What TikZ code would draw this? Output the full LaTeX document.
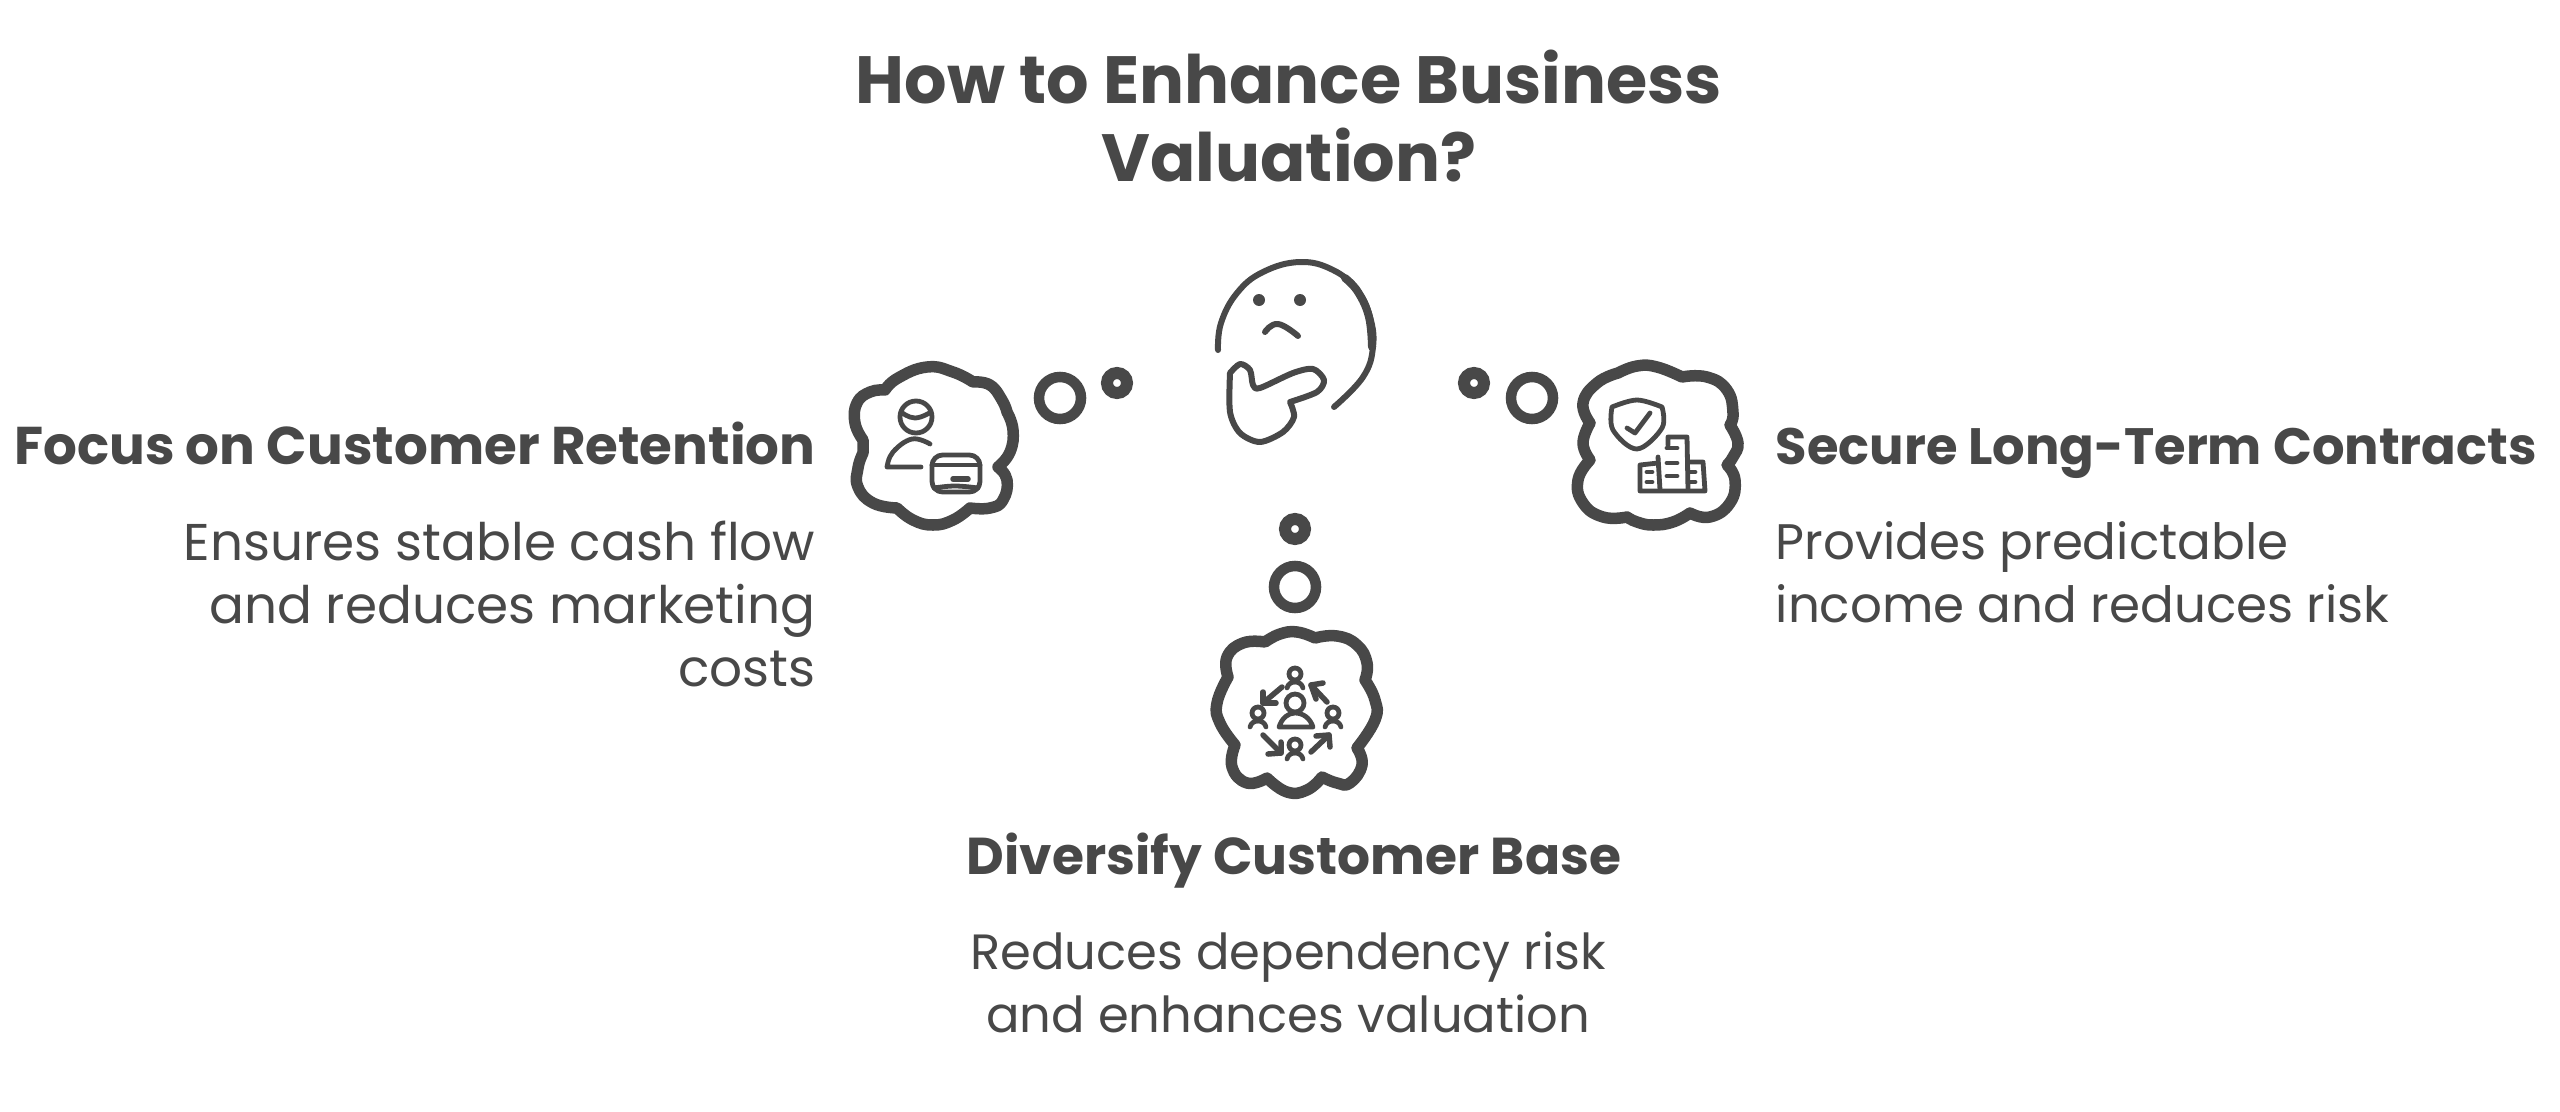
\documentclass[tikz,border=0pt]{standalone}
\usepackage{fontspec}
\setmainfont{Poppins}
\definecolor{inkgray}{HTML}{484848}
\tikzset{
  ringbig/.style={draw=inkgray,circle,inner sep=0pt,minimum size=0.42cm,line width=0.105cm},
  ringsmall/.style={draw=inkgray,circle,inner sep=0pt,minimum size=0.2cm,line width=0.12cm},
  blobline/.style={draw=inkgray,line width=0.115cm,line join=round,line cap=round},
  iconline/.style={draw=inkgray,line width=0.048cm,line join=round,line cap=round},
  faceline/.style={draw=inkgray,line width=0.06cm,line join=round,line cap=round},
  headtext/.style={inner sep=0pt,text=inkgray,font=\fontsize{#1}{18pt}\selectfont\bfseries},
  bodytext/.style={inner sep=0pt,text=inkgray,font=\fontsize{#1}{17.9pt}\selectfont},
  titletext/.style={inner sep=0pt,text=inkgray,align=center,font=\fontsize{19pt}{22.2pt}\selectfont\bfseries}
}
\begin{document}
\begin{tikzpicture}[x=0.01cm,y=-0.01cm]
\useasboundingbox (0,0) rectangle (2560,1112);

\node[titletext] (title) at (1289,116) {How to Enhance Business\\Valuation?};

% thinking face
\draw[faceline] plot[smooth,tension=.7] coordinates {(1218,350)(1221,323)(1237,293)(1263,272)(1300,262)(1333,270)(1357,290)(1370,317)(1373,347)(1363,377)(1334,407)};
\draw[faceline,line width=0.08cm] plot[smooth,tension=.7] coordinates {(1345,278)(1358,292)(1369,317)(1372,347)};
\fill[inkgray] (1259,300) circle (6);
\fill[inkgray] (1300,300) circle (6);
\draw[faceline] plot[smooth,tension=.8] coordinates {(1265,332)(1278,324)(1298,336)};
\draw[faceline] plot[smooth,tension=.5] coordinates {(1230,373)(1240,364)(1250,370)(1253,385)(1260,388)(1293,373)(1313,369)(1324,380)(1317,392)(1290,402)}
  -- plot[smooth,tension=.5] coordinates {(1290,402)(1294,417)(1283,432)(1260,442)(1240,433)(1230,412)(1230,373)};

% rings
\node[ringbig] (ringL) at (1060,398) {};
\node[ringsmall] (dotL) at (1117,383) {};
\node[ringbig] (ringR) at (1532,398) {};
\node[ringsmall] (dotR) at (1474,383) {};
\node[ringbig] (ringB) at (1295,587) {};
\node[ringsmall] (dotB) at (1295,529) {};

% left cloud
\draw[blobline] plot[smooth,tension=.8] coordinates {(885,390)(898,378)(927,367)(953,372)(973,382)}
  -- plot[smooth,tension=.8] coordinates {(973,382)(990,385)(1002,400)(1007,412)}
  -- plot[smooth,tension=.8] coordinates {(1007,412)(1013,430)(1010,452)(998,467)}
  -- plot[smooth,tension=.8] coordinates {(998,467)(1007,480)(1003,500)(990,508)(970,508)}
  -- plot[smooth,tension=.8] coordinates {(970,508)(953,520)(933,525)(913,520)(897,508)}
  -- plot[smooth,tension=.8] coordinates {(897,508)(873,503)(858,487)(858,468)(863,453)}
  -- (863,440)
  -- plot[smooth,tension=.8] coordinates {(863,440)(855,423)(857,403)(870,392)(885,390)} -- cycle;
\draw[iconline] (916,417) circle (16);
\draw[iconline] plot[smooth,tension=.8] coordinates {(901,412)(915,418)(931,412)};
\draw[iconline] plot[smooth,tension=.7] coordinates {(930,444)(912,439)(893,452)(887,467)} -- (921,467);
\draw[iconline,rounded corners=3pt] (932,455) rectangle (980,492);
\draw[iconline] (932,465) -- (980,465);
\draw[iconline] plot[smooth,tension=.7] coordinates {(934,488)(955,486)(978,488)};
\draw[iconline,line width=0.055cm] (953,479) -- (968,479);

% right cloud
\draw[blobline] plot[smooth,tension=.8] coordinates {(1618,373)(1637,366)(1657,367)(1682,377)}
  -- plot[smooth,tension=.8] coordinates {(1682,377)(1707,377)(1727,390)(1733,413)(1730,425)}
  -- plot[smooth,tension=.8] coordinates {(1730,425)(1738,443)(1733,457)(1727,465)}
  -- plot[smooth,tension=.8] coordinates {(1727,465)(1735,480)(1730,503)(1710,517)(1690,513)}
  -- plot[smooth,tension=.8] coordinates {(1690,513)(1673,522)(1653,525)(1637,522)(1627,517)}
  -- plot[smooth,tension=.8] coordinates {(1627,517)(1603,517)(1583,503)(1578,480)(1590,460)}
  -- plot[smooth,tension=.8] coordinates {(1590,460)(1583,443)(1590,423)}
  -- plot[smooth,tension=.8] coordinates {(1590,423)(1583,403)(1597,383)(1618,373)} -- cycle;
\draw[iconline] plot[smooth,tension=.6] coordinates {(1612,407)(1637,400)(1662,407)}
  -- plot[smooth,tension=.6] coordinates {(1662,407)(1662,428)(1637,449)(1613,430)(1612,407)};
\draw[iconline] (1627,428) -- (1635,433) -- (1650,413);
\draw[iconline] (1668,445) -- (1668,437) -- (1687,437) -- (1688,490);
\draw[iconline] (1658,457) -- (1660,490);
\draw[iconline] (1658,463) -- (1640,465) -- (1640,491) -- (1705,491) -- (1703,462) -- (1688,462);
\foreach \yy in {448,463,476} \draw[iconline] (1667,\yy) -- (1677,\yy);
\foreach \yy in {472,482} {
  \draw[iconline] (1647,\yy) -- (1652,\yy);
  \draw[iconline] (1690,\yy) -- (1695,\yy);
}

% bottom cloud
\draw[blobline] plot[smooth,tension=.8] coordinates {(1265,642)(1280,634)(1297,632)(1315,638)}
  -- plot[smooth,tension=.8] coordinates {(1315,638)(1337,636)(1357,645)(1367,663)(1365,680)}
  -- plot[smooth,tension=.8] coordinates {(1365,680)(1375,700)(1375,720)(1357,748)}
  -- plot[smooth,tension=.8] coordinates {(1357,748)(1362,765)(1350,783)(1337,783)(1322,777)}
  -- plot[smooth,tension=.8] coordinates {(1322,777)(1307,790)(1287,792)(1267,778)}
  -- plot[smooth,tension=.8] coordinates {(1267,778)(1247,783)(1232,767)(1235,745)}
  -- plot[smooth,tension=.8] coordinates {(1235,745)(1220,723)(1217,703)(1228,677)}
  -- plot[smooth,tension=.8] coordinates {(1228,677)(1227,657)(1243,643)(1265,642)} -- cycle;
\draw[iconline] (1295,703) circle (9);
\draw[iconline] (1279,727) .. controls (1282,718) and (1288,713) .. (1295,713) .. controls (1303,713) and (1310,718) .. (1313,727) -- cycle;
\foreach \xx/\yy in {1295/674,1258/713,1333/713,1295/745} {
  \draw[iconline] (\xx,\yy) circle (6);
  \draw[iconline] (\xx-8,\yy+14) .. controls (\xx-7,\yy+10) and (\xx-4,\yy+8) .. (\xx,\yy+8) .. controls (\xx+4,\yy+8) and (\xx+7,\yy+10) .. (\xx+8,\yy+14);
}
\draw[iconline,line width=0.055cm] (1327,702) -- (1311,685);
\draw[iconline,line width=0.055cm] (1323,683) -- (1311,685) -- (1316,699);
\draw[iconline,line width=0.055cm] (1282,687) -- (1263,703);
\draw[iconline,line width=0.055cm] (1263,692) -- (1263,703) -- (1276,703);
\draw[iconline,line width=0.055cm] (1263,735) -- (1281,753);
\draw[iconline,line width=0.055cm] (1268,754) -- (1281,753) -- (1281,742);
\draw[iconline,line width=0.055cm] (1311,752) -- (1329,735);
\draw[iconline,line width=0.055cm] (1316,736) -- (1329,735) -- (1330,747);

% labels
\node[headtext=15.1pt,anchor=base east] (leftHead) at (816,464) {Focus on Customer Retention};
\node[bodytext=14.7pt,align=right,anchor=east] (leftBody) at (816,604) {Ensures stable cash flow\\and reduces marketing\\costs};
\node[headtext=14.55pt,anchor=base west] (rightHead) at (1775,464) {Secure Long-Term Contracts};
\node[bodytext=14.2pt,align=left,anchor=west] (rightBody) at (1775,572) {Provides predictable\\income and reduces risk};
\node[headtext=14.75pt,anchor=base] (bottomHead) at (1294,874) {Diversify Customer Base};
\node[bodytext=14.1pt,align=center] (bottomBody) at (1288,982) {Reduces dependency risk\\and enhances valuation};
\end{tikzpicture}
\end{document}
